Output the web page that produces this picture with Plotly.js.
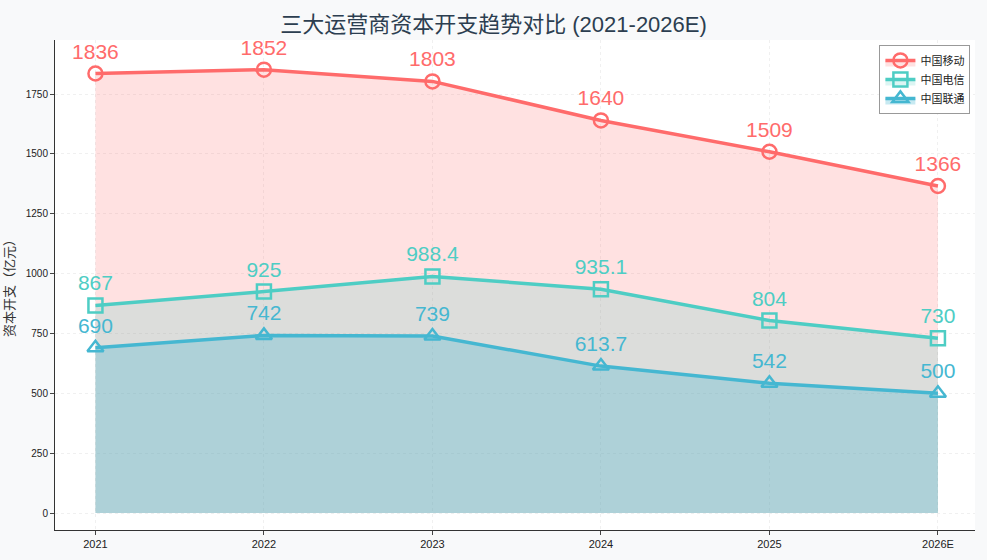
<!DOCTYPE html>
<html>
<head>
<meta charset="utf-8">
<script src="https://cdn.plot.ly/plotly-3.0.1.min.js"></script>
<style>body{margin:0;background:#f8f9fa}</style>
</head>
<body>
<div id="chart" style="width:987px;height:560px"></div>
<script>
// capex, 亿元
const years = ['2021', '2022', '2023', '2024', '2025', '2026E'];
const mobile = [1836, 1852, 1803, 1640, 1509, 1366];
const telecom = [867, 925, 988.4, 935.1, 804, 730];
const unicom = [690, 742, 739, 613.7, 542, 500];

const series = [
  {name: '中国移动', y: mobile, color: '#FF6B6B', fill: 'rgba(255,107,107,0.2)', symbol: 'circle-open'},
  {name: '中国电信', y: telecom, color: '#4ECDC4', fill: 'rgba(78,205,196,0.2)', symbol: 'square-open'},
  {name: '中国联通', y: unicom, color: '#45B7D1', fill: 'rgba(69,183,209,0.3)', symbol: 'triangle-up-open'}
];

let data = series.map(s => ({
  x: years,
  y: s.y,
  name: s.name,
  type: 'scatter',
  mode: 'lines+markers+text',
  fill: 'tozeroy',
  fillcolor: s.fill,
  line: {color: s.color, width: 3.5},
  marker: {symbol: s.symbol, size: 14, color: s.color, line: {width: 2.5, color: s.color}},
  text: s.y.map(String),
  textposition: 'top center',
  textfont: {size: 21, color: s.color},
  cliponaxis: false
}));

const layout = {
  width: 987, height: 560,
  paper_bgcolor: '#f8f9fa',
  plot_bgcolor: '#ffffff',
  font: {family: 'Liberation Sans, Noto Sans CJK SC, sans-serif', color: '#333'},
  title: {text: '三大运营商资本开支趋势对比 (2021-2026E)', x: 0.5, y: 0.97, font: {size: 22, color: '#2c3e50'}},
  margin: {l: 55, r: 12, t: 40, b: 30},
  showlegend: true,
  legend: {x: 0.995, y: 0.99, xanchor: 'right', yanchor: 'top', bgcolor: '#fff',
    bordercolor: '#999', borderwidth: 1, font: {size: 11, color: '#222'}},
  xaxis: {
    type: 'category', range: [-0.24, 5.22],
    showgrid: true, gridcolor: '#f0f0f0', griddash: 'dot',
    showline: true, linecolor: '#333', ticks: 'outside', ticklen: 4,
    tickfont: {size: 11, color: '#222'}
  },
  yaxis: {
    range: [-71, 1976], tickvals: [0, 250, 500, 750, 1000, 1250, 1500, 1750],
    showgrid: true, gridcolor: '#f0f0f0', griddash: 'dot', zeroline: false,
    showline: true, linecolor: '#333', ticks: 'outside', ticklen: 4,
    tickfont: {size: 10, color: '#222'},
    title: {text: '资本开支（亿元）', font: {size: 13, color: '#333'}, standoff: 8}
  }
};

Plotly.newPlot('chart', data, layout, {displayModeBar: false});
</script>
</body>
</html>
